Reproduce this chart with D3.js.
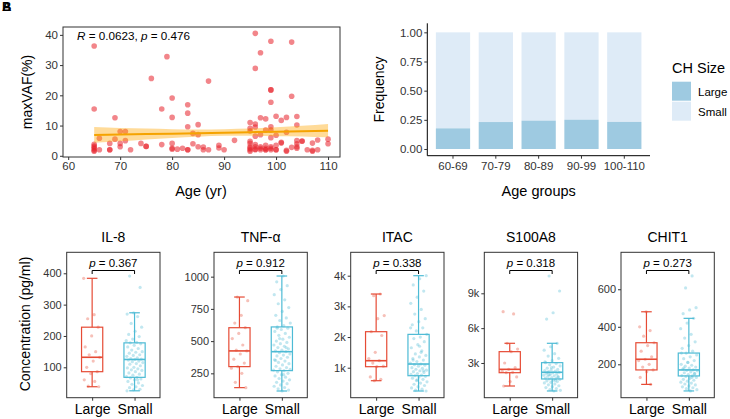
<!DOCTYPE html>
<html><head><meta charset="utf-8">
<script src="https://cdn.jsdelivr.net/npm/d3@7"></script>
<style>body{margin:0;background:#fff}</style>
</head><body>
<svg id="c" width="730" height="419"></svg>
<script>
// ---------------- DATA ----------------
// Scatter: age vs maxVAF
const scatterAge = [
 65,65,65,65,65,65,65,65, 66,66, 68,68,68, 69,69, 70,70,70, 71,71, 72, 74, 75,75, 76, 78,78, 79,
 80,80,80,80,80, 81, 82, 83,83,83,83,83, 84,84, 85,85,85, 86,86, 87,87, 89,89, 90, 92,
 95,95,95,95,95,95,95,95,95, 96,96,96,96,96,96,96,96,96, 97,97,97,97,97,97, 98,98,98,98,98,98,
 99,99,99,99,99,99,99,99,99,99, 100,100,100,100,100, 101,101,101, 102,102,102,102, 103,103,103,
 104,104,104,104,104,104, 105,105, 106, 107,107,107, 108,108, 110,110];
const scatterVAF = [
 36.3,15.5,3.8,3.2,2.8,2.3,1.8,1.5, 5.8,2.0, 4.1,2.0,2.0, 12.6,5.5, 8.0,4.1,3.0, 8.0,5.0, 2.0, 4.1, 3.1,3.1, 25.6, 15.5,3.7, 32.8,
 19.1,12.7,4.1,2.5,2.2, 2.2, 2.5, 16.9,14.1,9.6,2.0,2.0, 7.4,4.0, 10.3,7.0,3.0, 2.9,2.0, 24.7,2.0, 3.5,2.6, 2.0, 5.1,
 11.0,9.1,8.2,4.8,4.1,3.0,2.0,1.5,2.5, 40.5,28.9,10.5,9.5,6.5,3.7,3.0,2.2,2.0, 34.1,12.6,7.0,3.0,2.0,2.5, 12.2,8.5,3.5,2.5,2.0,2.0,
 37.9,21.8,21.8,17.7,9.6,8.5,6.0,3.0,2.0,2.5, 13.1,6.8,3.5,2.0,2.0, 11.7,4.2,4.5, 12.7,7.8,1.8,1.5, 37.6,19.7,2.8,
 13.0,10.2,5.0,4.0,3.0,2.5, 4.9,4.8, 2.0, 4.2,1.8,1.5, 5.2,2.0, 5.5,4.0];
// Linear fit and its confidence band
const fitX  = [65, 70, 75, 80, 85, 90, 95, 100, 105, 110];
const fitY  = [6.85, 7.01, 7.17, 7.33, 7.49, 7.66, 7.82, 7.98, 8.14, 8.30];
const fitLo = [4.3, 4.8, 5.4, 5.9, 6.3, 6.6, 6.6, 6.5, 6.4, 6.1];
const fitHi = [9.5, 9.2, 9.0, 8.8, 8.7, 8.8, 9.0, 9.4, 9.9, 10.5];
const corrR = "0.0623", corrP = "0.476";
const scatterXTicks = [60, 70, 80, 90, 100, 110];
const scatterYTicks = [0, 10, 20, 30, 40];

// Stacked bars
const ageGroups = ["60-69", "70-79", "80-89", "90-99", "100-110"];
const largeFreq = [0.177, 0.231, 0.243, 0.251, 0.232];
const smallFreq = [0.823, 0.769, 0.757, 0.749, 0.768];
const barYTicks = [0, 0.25, 0.5, 0.75, 1.0];
const sizeGroups = ["Large", "Small"];

// Boxplots
const cytokines = ["IL-8", "TNF-\u03b1", "ITAC", "S100A8", "CHIT1"];
const pValues = ["0.367", "0.912", "0.338", "0.318", "0.273"];
// [lower whisker, Q1, median, Q3, upper whisker]
const boxLarge = [[38,86,132,228,384],[139,302,424,604,842],[576,1033,1228,2174,3403],[1019,2165,2455,3976,4697],[93,170,227,315,480]];
const boxSmall = [[25,68,125,178,274],[113,271,418,610,1005],[240,739,1120,2087,4000],[591,1624,2201,3029,4697],[58,138,170,260,445]];
const ptsLarge = [
 [384,268,255,228,200,165,150,140,132,120,100,86,80,60,55,40,38],
 [842,814,700,640,604,560,520,470,430,424,400,360,330,302,290,250,180,139],
 [3403,3350,2700,2600,2174,2050,1500,1300,1228,1150,1050,1033,700,620,576],
 [7418,7221,4697,4200,3976,3000,2600,2455,2300,2200,2165,1800,1400,1019],
 [480,400,380,350,315,300,270,240,227,220,200,185,170,160,130,93]];
const ptsSmall = [
 [391,355,274,270,262,240,228,215,205,198,190,185,180,178,175,170,165,160,155,150,148,145,140,138,135,130,128,126,125,123,120,118,115,112,110,105,100,98,95,92,90,86,82,78,75,70,68,66,63,60,55,50,46,42,38,35,30,28,25,60],
 [1005,960,930,900,860,820,790,760,730,700,680,660,640,620,610,600,590,575,560,545,530,515,500,490,480,470,460,450,440,430,425,418,410,400,392,385,375,365,355,345,335,325,315,305,295,285,275,271,262,250,240,230,220,210,200,190,180,170,160,150,140,130,120,113,350,450,520,280,240,600],
 [4000,3900,3700,3500,3300,3100,2900,2750,2600,2500,2400,2300,2200,2087,2000,1950,1850,1750,1650,1550,1450,1400,1350,1300,1250,1200,1150,1120,1100,1080,1050,1000,980,950,920,900,870,840,810,780,760,739,720,700,660,620,580,540,500,460,420,380,340,300,270,240,1700,1250,900,600,2300,1500],
 [10490,9200,7327,6780,4697,4400,4100,3800,3600,3400,3200,3029,2950,2850,2750,2650,2550,2450,2400,2350,2300,2250,2201,2150,2100,2050,2000,1950,1900,1850,1800,1750,1700,1650,1624,1580,1520,1460,1400,1340,1280,1200,1120,1040,960,880,800,720,650,591,2200,1800,2600,3100,1500,2000],
 [671,607,502,490,470,445,420,390,360,340,320,300,285,270,260,250,240,230,220,210,200,195,190,185,180,175,170,168,165,160,155,150,145,140,138,135,130,125,120,115,110,105,100,95,90,85,80,75,70,65,58,180,150,210,260,130]];
const boxYTicks = [[100,200,300,400],[250,500,750,1000],[1000,2000,3000,4000],[3000,6000,9000],[200,400,600]];
const boxYTickLabels = [["100","200","300","400"],["250","500","750","1000"],["1k","2k","3k","4k"],["3k","6k","9k"],["200","400","600"]];

// ---------------- DRAW ----------------
const FONT = "'Liberation Sans', Arial, Helvetica, sans-serif";
const TXT = "#333";
const svg = d3.select("#c").attr("font-family", FONT);

function styleAxis(g, fs) {
  g.attr("font-family", FONT).attr("font-size", fs);
  g.selectAll("text").attr("fill", TXT);
  g.selectAll("line").attr("stroke", TXT);
}

// overlapping panel letters
["A","B"].forEach(l => svg.append("text").attr("x", 2).attr("y", 11)
  .attr("font-size", 13).attr("font-weight", "bold").text(l));

// ---- Scatter ----
{
  const x = d3.scaleLinear().domain([59.0, 112.3]).range([63, 340]);
  const y = d3.scaleLinear().domain([-0.4, 42.6]).range([157, 27]);
  const g = svg.append("g");
  g.selectAll("circle").data(scatterAge).join("circle")
    .attr("cx", d => x(d)).attr("cy", (d, i) => y(scatterVAF[i]))
    .attr("r", 2.8).attr("fill", "#E8202A").attr("fill-opacity", 0.55);
  g.append("path").datum(fitX)
    .attr("d", d3.area().x((d, i) => x(fitX[i])).y0((d, i) => y(fitLo[i])).y1((d, i) => y(fitHi[i])).curve(d3.curveMonotoneX))
    .attr("fill", "#FFA500").attr("fill-opacity", 0.4);
  g.append("path").datum(fitX)
    .attr("d", d3.line().x((d, i) => x(fitX[i])).y((d, i) => y(fitY[i])))
    .attr("stroke", "#F5A300").attr("stroke-width", 2).attr("fill", "none");
  g.append("rect").attr("x", 63).attr("y", 27).attr("width", 277).attr("height", 130)
    .attr("fill", "none").attr("stroke", "#333").attr("stroke-width", 1);
  const ax = g.append("g").attr("transform", "translate(0,157)")
    .call(d3.axisBottom(x).tickValues(scatterXTicks).tickSize(3).tickPadding(2));
  ax.select(".domain").remove(); styleAxis(ax, 11.5);
  const ay = g.append("g").attr("transform", "translate(63,0)")
    .call(d3.axisLeft(y).tickValues(scatterYTicks).tickSize(3).tickPadding(2));
  ay.select(".domain").remove(); styleAxis(ay, 11.5);
  const t = g.append("text").attr("x", 77).attr("y", 40).attr("font-size", 11.7).attr("fill", "#000");
  t.append("tspan").attr("font-style", "italic").text("R");
  t.append("tspan").text(" = " + corrR + ", ");
  t.append("tspan").attr("font-style", "italic").text("p");
  t.append("tspan").text(" = " + corrP);
  g.append("text").attr("x", 201).attr("y", 196).attr("text-anchor", "middle").attr("font-size", 14.5).text("Age (yr)");
  g.append("text").attr("transform", "translate(32,92) rotate(-90)").attr("text-anchor", "middle").attr("font-size", 14).text("maxVAF(%)");
}

// ---- Stacked bars ----
{
  const x = d3.scaleBand().domain(ageGroups).range([427.3, 650]).paddingInner(0.2).paddingOuter(0.2);
  const y = d3.scaleLinear().domain([-0.0575, 1.0775]).range([155.7, 23.3]);
  const g = svg.append("g");
  g.selectAll("rect.s").data(ageGroups).join("rect").attr("class", "s")
    .attr("x", d => x(d)).attr("width", x.bandwidth())
    .attr("y", (d, i) => y(largeFreq[i] + smallFreq[i])).attr("height", (d, i) => y(largeFreq[i]) - y(largeFreq[i] + smallFreq[i]))
    .attr("fill", "#DEEBF7");
  g.selectAll("rect.l").data(ageGroups).join("rect").attr("class", "l")
    .attr("x", d => x(d)).attr("width", x.bandwidth())
    .attr("y", (d, i) => y(largeFreq[i])).attr("height", (d, i) => y(0) - y(largeFreq[i]))
    .attr("fill", "#9ECAE1");
  const ax = g.append("g").attr("transform", "translate(0,155.7)")
    .call(d3.axisBottom(x).tickSize(3).tickPadding(3));
  styleAxis(ax, 11.5); ax.select(".domain").attr("stroke", "#000").attr("d", "M427.3,0H650");
  const ay = g.append("g").attr("transform", "translate(427.3,0)")
    .call(d3.axisLeft(y).tickValues(barYTicks).tickFormat(d3.format(".2f")).tickSize(3).tickPadding(2));
  styleAxis(ay, 11.5); ay.select(".domain").attr("stroke", "#000").attr("d", "M0,23.3V155.7");
  g.append("text").attr("x", 538.7).attr("y", 196).attr("text-anchor", "middle").attr("font-size", 14.5).text("Age groups");
  g.append("text").attr("transform", "translate(384,89.5) rotate(-90)").attr("text-anchor", "middle").attr("font-size", 14).text("Frequency");
  // legend
  g.append("text").attr("x", 672).attr("y", 73).attr("font-size", 14.5).text("CH Size");
  const cols = ["#9ECAE1", "#DEEBF7"];
  sizeGroups.forEach((s, i) => {
    g.append("rect").attr("x", 672).attr("y", 81.7 + i * 20).attr("width", 19).attr("height", 19).attr("fill", cols[i]);
    g.append("text").attr("x", 698).attr("y", 95.5 + i * 20).attr("font-size", 11.5).text(s);
  });
}

// ---- Boxplots ----
{
  const lefts = [66.7, 214, 350.7, 484.3, 621];
  const W = 93.3, top = 252.3, bot = 397.7;
  const domains = [[3, 467], [61, 1189], [22, 4763], [12, 12531], [22, 797]];
  const colG = ["#E64B35", "#4DBBD5"];
  cytokines.forEach((name, k) => {
    const L = lefts[k];
    const g = svg.append("g");
    const x = d3.scalePoint().domain(sizeGroups).range([L, L + W]).padding(0.6);
    const y = d3.scaleLinear().domain(domains[k]).range([bot, top]);
    const step = x.step();
    const bw = step * 0.5, cw = step * 0.25, jw = step * 0.2;
    [boxLarge[k], boxSmall[k]].forEach((b, gi) => {
      const cx = x(sizeGroups[gi]);
      const c = colG[gi];
      g.append("line").attr("x1", cx).attr("x2", cx).attr("y1", y(b[0])).attr("y2", y(b[1])).attr("stroke", c).attr("stroke-width", 1.2);
      g.append("line").attr("x1", cx).attr("x2", cx).attr("y1", y(b[3])).attr("y2", y(b[4])).attr("stroke", c).attr("stroke-width", 1.2);
      [b[0], b[4]].forEach(v => g.append("line").attr("x1", cx - cw / 2).attr("x2", cx + cw / 2).attr("y1", y(v)).attr("y2", y(v)).attr("stroke", c).attr("stroke-width", 1.2));
      g.append("rect").attr("x", cx - bw / 2).attr("width", bw).attr("y", y(b[3])).attr("height", y(b[1]) - y(b[3]))
        .attr("fill", "none").attr("stroke", c).attr("stroke-width", 1.2);
      g.append("line").attr("x1", cx - bw / 2).attr("x2", cx + bw / 2).attr("y1", y(b[2])).attr("y2", y(b[2])).attr("stroke", c).attr("stroke-width", 1.6);
      const pts = gi === 0 ? ptsLarge[k] : ptsSmall[k];
      g.selectAll(null).data(pts).join("circle")
        .attr("cx", (d, i) => cx + (((i * 0.6180339 + k * 0.37 + gi * 0.21) % 1) - 0.5) * 2 * jw)
        .attr("cy", d => y(d)).attr("r", 1.6).attr("fill", c).attr("fill-opacity", 0.35);
    });
    g.append("rect").attr("x", L).attr("y", top).attr("width", W).attr("height", bot - top)
      .attr("fill", "none").attr("stroke", "#333").attr("stroke-width", 1);
    const ay = g.append("g").attr("transform", `translate(${L},0)`)
      .call(d3.axisLeft(y).tickValues(boxYTicks[k]).tickFormat((d, i) => boxYTickLabels[k][i]).tickSize(3).tickPadding(2));
    ay.select(".domain").remove(); styleAxis(ay, 11);
    const ax = g.append("g").attr("transform", `translate(0,${bot})`)
      .call(d3.axisBottom(x).tickSize(3).tickPadding(3));
    ax.select(".domain").remove(); styleAxis(ax, 14);
    ax.selectAll("text").attr("fill", "#000");
    g.append("text").attr("x", L + W / 2).attr("y", 241.7).attr("text-anchor", "middle").attr("font-size", 14).text(name);
    const x1 = x(sizeGroups[0]), x2 = x(sizeGroups[1]), by = 270.5;
    g.append("path").attr("d", `M${x1},${by + 3.5}V${by}H${x2}V${by + 3.5}`).attr("fill", "none").attr("stroke", "#000").attr("stroke-width", 1);
    const t = g.append("text").attr("x", (x1 + x2) / 2).attr("y", 266.5).attr("text-anchor", "middle").attr("font-size", 11.5);
    t.append("tspan").attr("font-style", "italic").text("p");
    t.append("tspan").text(" = " + pValues[k]);
  });
  svg.append("text").attr("transform", "translate(29.5,324) rotate(-90)").attr("text-anchor", "middle").attr("font-size", 14).text("Concentration (pg/ml)");
}
</script>
</body></html>
